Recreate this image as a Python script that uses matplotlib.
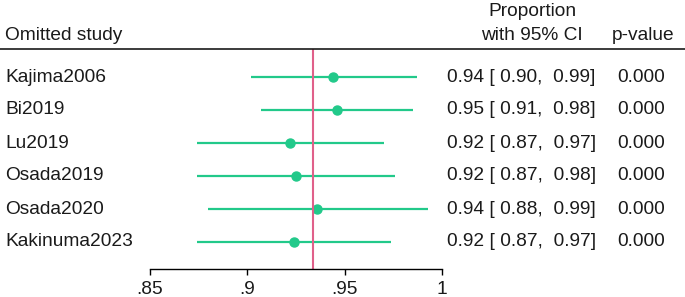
import matplotlib
matplotlib.use("Agg")
import matplotlib.pyplot as plt
from matplotlib.transforms import blended_transform_factory

# Leave-one-out data
studies = ["Kajima2006", "Bi2019", "Lu2019", "Osada2019", "Osada2020", "Kakinuma2023"]
prop = [0.944, 0.946, 0.922, 0.925, 0.936, 0.924]
lower = [0.902, 0.907, 0.874, 0.874, 0.880, 0.874]
upper = [0.987, 0.985, 0.970, 0.976, 0.993, 0.974]
ci_text = ["0.94 [ 0.90,  0.99]", "0.95 [ 0.91,  0.98]", "0.92 [ 0.87,  0.97]",
           "0.92 [ 0.87,  0.98]", "0.94 [ 0.88,  0.99]", "0.92 [ 0.87,  0.97]"]
pvals = ["0.000"] * 6
overall = 0.9338
xticks = [0.85, 0.90, 0.95, 1.00]
xticklabels = [".85", ".9", ".95", "1"]

green = "#22c98a"
pink = "#e0608a"
txt = "#1a1a1a"

plt.rcParams["font.family"] = ["Liberation Sans", "DejaVu Sans"]
fs = 13.8

W, H = 685, 297
fig = plt.figure(figsize=(W / 100, H / 100), dpi=100)
ax = fig.add_axes([150 / W, (H - 269) / H, 292 / W, 220 / H])

rows = list(range(len(studies)))
ax.hlines(rows, lower, upper, color=green, lw=1.6)
ax.plot(prop, rows, "o", color=green, ms=6.5)
ax.axvline(overall, color=pink, lw=1.5)

ax.set_xlim(0.85, 1.0)
ax.set_ylim(5 + 27 / 33, -28 / 33)
for s in ["top", "right", "left"]:
    ax.spines[s].set_visible(False)
ax.spines["bottom"].set_linewidth(1.0)
ax.set_yticks([])
ax.set_xticks(xticks)
ax.set_xticklabels(xticklabels, fontsize=fs, color=txt)
ax.tick_params(axis="x", direction="out", length=4.5, width=1.0, pad=4)

tr = blended_transform_factory(fig.transFigure, ax.transData)
for i in rows:
    ax.text(5 / W, i, studies[i], transform=tr, fontsize=fs, color=txt, va="center", ha="left")
    ax.text(447 / W, i, ci_text[i], transform=tr, fontsize=fs, color=txt, va="center", ha="left")
    ax.text(641 / W, i, pvals[i], transform=tr, fontsize=fs, color=txt, va="center", ha="center")

# header
fig.text(5 / W, 1 - 35 / H, "Omitted study", fontsize=fs, color=txt, va="center", ha="left")
fig.text(532 / W, 1 - 12 / H, "Proportion", fontsize=fs, color=txt, va="center", ha="center")
fig.text(532 / W, 1 - 35 / H, "with 95% CI", fontsize=fs, color=txt, va="center", ha="center")
fig.text(643 / W, 1 - 35 / H, "p-value", fontsize=fs, color=txt, va="center", ha="center")
fig.add_artist(plt.Line2D([0, 1], [1 - 49 / H, 1 - 49 / H], transform=fig.transFigure,
                          color=txt, lw=1.2))

fig.savefig("out.png", dpi=100)
